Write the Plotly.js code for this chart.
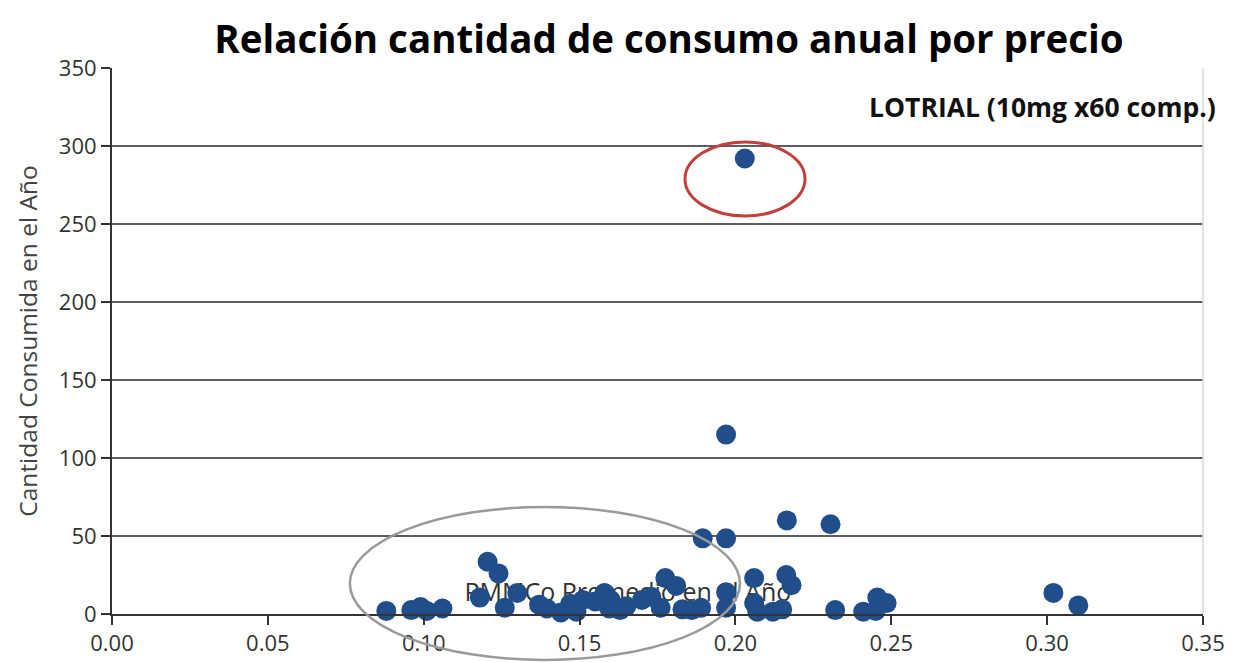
<!DOCTYPE html>
<html>
<head>
<meta charset="utf-8">
<script src="https://cdn.plot.ly/plotly-3.0.1.min.js"></script>
<style>html,body{margin:0;padding:0;background:#fff}#chart{width:1241px;height:662px}</style>
</head>
<body>
<div id="chart"></div>
<script>
// Precio promedio (x) y cantidad consumida en el año (y)
const precio = [
  0.088, 0.096, 0.099, 0.101, 0.106, 0.1205, 0.124, 0.118, 0.126, 0.130,
  0.137, 0.1395, 0.144, 0.147, 0.149, 0.151, 0.155, 0.158, 0.1595, 0.163,
  0.160, 0.165, 0.170, 0.173, 0.176, 0.1775, 0.181, 0.183, 0.186, 0.189,
  0.1895, 0.197, 0.197, 0.197, 0.197, 0.203, 0.206, 0.206, 0.207, 0.212,
  0.215, 0.2163, 0.218, 0.2165, 0.2305, 0.232, 0.241, 0.2455, 0.2485, 0.245,
  0.302, 0.310
];
const cantidad = [
  2, 2.5, 4.5, 2, 3.5, 33.5, 26, 10.5, 4, 13.5,
  6, 3.5, 1, 6.5, 1.5, 9, 8, 13.5, 3.5, 2.5,
  9, 5, 9, 11, 4, 23, 18, 3, 2.5, 4,
  48.5, 48.5, 115, 14, 4, 292, 23, 7, 1.5, 1.5,
  3, 25, 18.5, 60, 57.5, 2.5, 1.5, 10.5, 7, 2,
  13.5, 5.5
];
const xTicks = [0, 0.05, 0.10, 0.15, 0.20, 0.25, 0.30, 0.35];
const xTickText = ["0.00", "0.05", "0.10", "0.15", "0.20", "0.25", "0.30", "0.35"];
const yTicks = [0, 50, 100, 150, 200, 250, 300, 350];

const titulo = "Relación cantidad de consumo anual por precio";
const tituloX = "PMMCo Promedio en el Año";
const tituloY = "Cantidad Consumida en el Año";
const etiqueta = "LOTRIAL (10mg x60 comp.)";

const font = "Open Sans, Noto Sans, DejaVu Sans, sans-serif";

const traces = [
  {
    x: [0.1655], y: [12.2], mode: "text", text: [tituloX],
    textfont: {family: font, size: 25, color: "#333"},
    hoverinfo: "skip", showlegend: false, cliponaxis: false
  },
  {
    x: precio, y: cantidad, mode: "markers", type: "scatter",
    marker: {size: 20, color: "#1f4e8a"},
    showlegend: false, cliponaxis: false
  }
];

const layout = {
  width: 1241, height: 662,
  margin: {l: 112, r: 38, t: 68, b: 48},
  paper_bgcolor: "#fff", plot_bgcolor: "#fff",
  title: {
    text: "<b>" + titulo + "</b>",
    font: {family: font, size: 38.5, color: "#000"},
    x: 0.539, xanchor: "center", y: 0.94, yanchor: "middle", xref: "container", yref: "container"
  },
  xaxis: {
    range: [0, 0.35], tickvals: xTicks, ticktext: xTickText,
    showgrid: false, zeroline: false,
    showline: true, linecolor: "#333", linewidth: 2,
    ticks: "outside", ticklen: 9, tickcolor: "#333", tickwidth: 2,
    tickfont: {family: font, size: 22, color: "#333"}
  },
  yaxis: {
    range: [0, 350], tickvals: yTicks,
    showgrid: true, gridcolor: "#5e5e5e", gridwidth: 2,
    zeroline: false,
    showline: true, linecolor: "#333", linewidth: 2,
    ticks: "outside", ticklen: 9, tickcolor: "#333", tickwidth: 2,
    tickfont: {family: font, size: 22, color: "#333"},
    title: {text: tituloY, font: {family: font, size: 24.5, color: "#444"}, standoff: 14}
  },
  shapes: [
    {type: "line", xref: "paper", yref: "paper", x0: 1, x1: 1, y0: 0, y1: 1,
     line: {color: "#d9d9d9", width: 1.5}},
    {type: "circle", xref: "paper", yref: "paper", x0: 0.5252, x1: 0.6352, y0: 0.729, y1: 0.8645,
     line: {color: "#c0413b", width: 3}},
    {type: "circle", xref: "paper", yref: "paper", x0: 0.218, x1: 0.5756, y0: -0.0842, y1: 0.196,
     line: {color: "#9a9a9a", width: 2.5}}
  ],
  annotations: [
    {text: "<b>" + etiqueta + "</b>", xref: "paper", yref: "paper", x: 1.0137, y: 0.928,
     xanchor: "right", yanchor: "middle", showarrow: false,
     font: {family: font, size: 26.5, color: "#111"}}
  ]
};

Plotly.newPlot("chart", traces, layout, {displayModeBar: false, staticPlot: true});
</script>
</body>
</html>
